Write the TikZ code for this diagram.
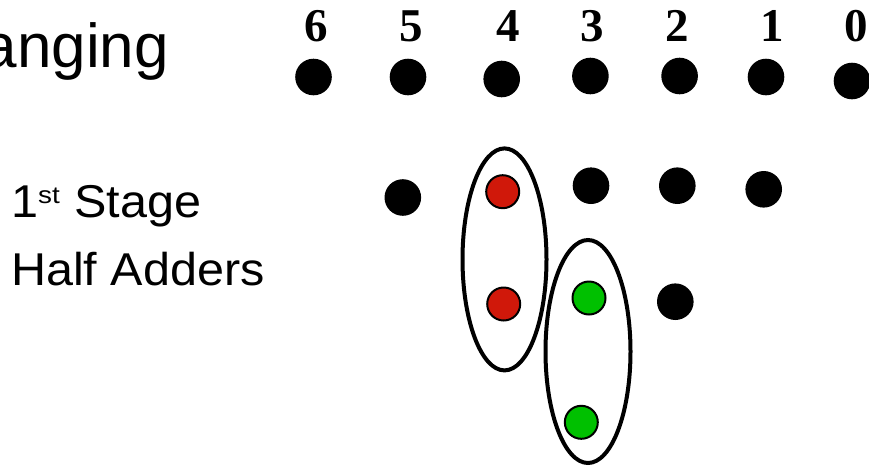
\documentclass[tikz,border=0pt]{standalone}
\usepackage{fontspec}
\setmainfont{Liberation Serif}
\setsansfont{Liberation Sans}
\definecolor{hared}{RGB}{208,24,10}
\definecolor{hagreen}{RGB}{0,192,0}
\newcommand{\widetext}[1]{\scalebox{1.055}[1]{#1}}
\begin{document}
\begin{tikzpicture}[x=1pt,y=-1pt,
  dot/.style={circle,fill=black,inner sep=0pt,minimum size=36.6pt},
  reddot/.style={circle,draw=black,line width=2pt,fill=hared,inner sep=0pt,minimum size=33pt},
  greendot/.style={circle,draw=black,line width=2pt,fill=hagreen,inner sep=0pt,minimum size=33pt},
  colnum/.style={anchor=base,inner sep=0pt,font=\fontsize{47}{47}\selectfont\bfseries},
  label/.style={anchor=base west,inner sep=0pt,font=\fontsize{46}{46}\selectfont\sffamily},
  group/.style={line width=4pt}]
\useasboundingbox (0,0) rectangle (869,466);

% heading, running off the left edge
\node[anchor=base east,inner sep=0pt,font=\fontsize{62}{62}\selectfont\sffamily] (title) at (169,67) {anging};

% column weights
\node[colnum] (n6) at (316,41.7) {6};
\node[colnum] (n5) at (411,41.7) {5};
\node[colnum] (n4) at (508,41.7) {4};
\node[colnum] (n3) at (592.6,41.7) {3};
\node[colnum] (n2) at (677,41.7) {2};
\node[colnum] (n1) at (772,41.7) {1};
\node[colnum] (n0) at (856,41.7) {0};

% top row of bits
\node[dot] (t6) at (313.5,77) {};
\node[dot] (t5) at (408,77) {};
\node[dot] (t4) at (501.7,79) {};
\node[dot] (t3) at (590.4,76) {};
\node[dot] (t2) at (679.6,76) {};
\node[dot] (t1) at (766,77) {};
\node[dot] (t0) at (852,81) {};

% stage labels
\node[label] (stage) at (11,217) {\widetext{1\raisebox{14pt}{\fontsize{24}{24}\selectfont\scalebox{1.1}[1]{st}}\hspace{1pt} Stage}};
\node[label] (half) at (11,285) {\widetext{Half Adders}};

% partial products after the first stage
\node[dot] (a5) at (402.8,197.5) {};
\node[reddot] (a4) at (502.7,191.7) {};
\node[dot] (a3) at (591,185.7) {};
\node[dot] (a2) at (677.3,185.7) {};
\node[dot] (a1) at (763.7,189.3) {};
\node[reddot] (b4) at (503.7,304) {};
\node[greendot] (b3) at (589,298) {};
\node[dot] (b2) at (675.3,301.7) {};
\node[greendot] (c3) at (581.3,422.3) {};

% half adder groupings
\draw[group] (504.5,259.4) ellipse [x radius=42, y radius=111];
\draw[group] (588,351.5) ellipse [x radius=42.5, y radius=111.5];
\end{tikzpicture}
\end{document}
